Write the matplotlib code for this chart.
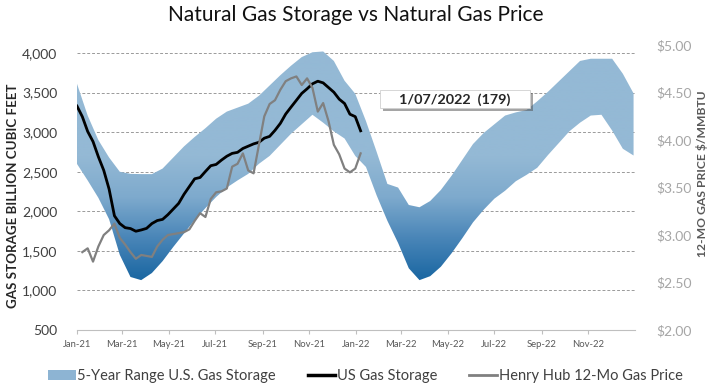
import pandas as pd
import matplotlib
matplotlib.use('Agg')
import matplotlib.pyplot as plt
import matplotlib.dates as mdates
import matplotlib.patheffects as pe
from matplotlib.colors import LinearSegmentedColormap, Normalize
from matplotlib.patches import Patch, Rectangle
from matplotlib.lines import Line2D
import numpy as np

plt.rcParams['font.family'] = ['Lato', 'DejaVu Sans']

# weekly US storage (Bcf), week ending Fridays from 2021-01-01
storage = [3330, 3196, 3009, 2881, 2689, 2518, 2281, 1943, 1845, 1793, 1782, 1748, 1764,
           1784, 1845, 1883, 1898, 1958, 2029, 2100, 2215, 2313, 2411, 2427, 2503, 2576,
           2592, 2647, 2696, 2732, 2745, 2794, 2823, 2852, 2872, 2924, 2947, 3023, 3111,
           3229, 3317, 3403, 3490, 3548, 3611, 3644, 3623, 3564, 3505, 3417, 3362, 3227,
           3196, 3017]
storage_dates = pd.date_range('2021-01-01', periods=len(storage), freq='7D')

# Henry Hub 12-month strip ($/MMBtu), weekly from 2021-01-08
price = [2.82, 2.86, 2.72, 2.88, 3.00, 3.05, 3.12, 2.97, 2.90, 2.82,
         2.75, 2.79, 2.78, 2.77, 2.88, 2.95, 3.00, 3.01, 3.02, 3.03,
         3.06, 3.15, 3.23, 3.19, 3.38, 3.45, 3.46, 3.49, 3.72, 3.75,
         3.86, 3.68, 3.65, 3.95, 4.25, 4.38, 4.42, 4.53, 4.62, 4.65,
         4.67, 4.58, 4.65, 4.55, 4.30, 4.39, 4.20, 3.95, 3.85, 3.70,
         3.66, 3.70, 3.86]
price_dates = pd.date_range('2021-01-08', periods=len(price), freq='7D')

# 5-year range, every two weeks over 2021-2022
range_high = [3612, 3210, 2900, 2680, 2500, 2473, 2470, 2470, 2540, 2680,
              2820, 2940, 3050, 3170, 3260, 3310, 3360, 3460, 3590, 3720,
              3840, 3949, 4010, 4020, 3900, 3650, 3485, 3140, 2750, 2346,
              2300, 2080, 2051, 2130, 2270, 2450, 2650, 2850, 2990, 3100,
              3210, 3250, 3280, 3390, 3510, 3640, 3770, 3900, 3928, 3928,
              3928, 3738, 3490]
range_low = [2599, 2390, 2170, 1900, 1450, 1170, 1130, 1220, 1370, 1550,
             1720, 1890, 2040, 2180, 2300, 2390, 2473, 2600, 2700, 2840,
             2980, 3100, 3220, 3120, 3010, 2920, 2700, 2560, 2200, 1880,
             1600, 1280, 1130, 1180, 1300, 1470, 1660, 1860, 2020, 2160,
             2260, 2380, 2460, 2550, 2710, 2860, 3010, 3120, 3210, 3220,
             3020, 2790, 2705]
range_dates = pd.date_range('2021-01-01', periods=len(range_high), freq='14D')

annot_text = '1/07/2022  (179)'

fig = plt.figure(figsize=(7.16, 3.89), dpi=100)
ax = fig.add_axes([0.1075, 0.1517, 0.7795, 0.7323])
ax2 = ax.twinx()

x0 = mdates.date2num(pd.Timestamp('2021-01-01'))
x1 = mdates.date2num(pd.Timestamp('2023-01-01'))

# band with vertical gradient, darker at low storage
band = ax.fill_between(range_dates, range_low, range_high, color='none', lw=0)
cmap = LinearSegmentedColormap.from_list('band', ['#1c68a3', '#4a86b8', '#7eaacd', '#94b9d5'])
grad = np.linspace(500, 4100, 300).reshape(-1, 1)
img = ax.imshow(grad, extent=[x0, x1, 500, 4100], origin='lower', aspect='auto',
                cmap=cmap, norm=Normalize(1150, 2700), zorder=1)
path = band.get_paths()[0]
img.set_clip_path(path, transform=ax.transData)

ax.plot(storage_dates, storage, color='black', lw=2.0, zorder=3)
ax2.plot(price_dates, price, color='#808080', lw=1.6, zorder=3)

ax.set_xlim(x0, x1)
ax.set_ylim(500, 4100)
ax2.set_ylim(2, 5)

ax.set_yticks(range(500, 4001, 500))
ax.set_yticklabels([f'{v:,}' for v in range(500, 4001, 500)])
ax2.set_yticks(np.arange(2, 5.01, 0.5))
ax2.set_yticklabels([f'${v:.2f}' for v in np.arange(2, 5.01, 0.5)])

ticks = pd.date_range('2021-01-01', '2022-11-01', freq='2MS')
ax.set_xticks(mdates.date2num(ticks))
ax.set_xticklabels([t.strftime('%b-%y') for t in ticks])

for a in (ax, ax2):
    for s in a.spines.values():
        s.set_visible(False)
ax.spines['bottom'].set_visible(True)
ax.spines['bottom'].set_color('#bfbfbf')

ax.grid(axis='y', color='#9a9a9a', ls=(0, (3, 2)), lw=0.7)
ax.set_axisbelow(True)
ax.tick_params(axis='y', length=0, pad=14, labelsize=10, labelcolor='#404040')
ax.tick_params(axis='x', length=3, color='#bfbfbf', labelsize=6.8, labelcolor='#595959', pad=4)
ax2.tick_params(axis='y', length=0, pad=15, labelsize=10, labelcolor='#a6a6a6')

ax.set_ylabel('GAS STORAGE BILLION CUBIC FEET', fontsize=9.6, fontweight='bold', color='#262626')
ax.yaxis.set_label_coords(-0.104, 0.47)
ax2.set_ylabel('12-MO GAS PRICE $/MMBTU', fontsize=8.7, fontweight='bold', color='#595959')
ax2.yaxis.set_label_coords(1.11, 0.55)

fig.text(0.497, 0.962, 'Natural Gas Storage vs Natural Gas Price', ha='center', va='center',
         fontsize=15, color='#111111')

# annotation box with a soft shadow
box = Rectangle((0.543, 0.779), 0.269, 0.063, transform=ax.transAxes, fc='white',
                ec='#d0d0d0', lw=0.6, zorder=5)
box.set_path_effects([pe.SimplePatchShadow(offset=(2, -2), alpha=0.5), pe.Normal()])
ax.add_patch(box)
ax.text(0.677, 0.81, annot_text, transform=ax.transAxes, ha='center', va='center',
        fontsize=10.4, fontweight='bold', color='#262626', zorder=6)

handles = [Patch(facecolor='#8db4d3', edgecolor='none'),
           Line2D([], [], color='black', lw=2.5),
           Line2D([], [], color='#808080', lw=2)]
labels = ['5-Year Range U.S. Gas Storage', 'US Gas Storage', 'Henry Hub 12-Mo Gas Price']
fig.legend(handles, labels, loc='center', bbox_to_anchor=(0.51, 0.033), ncol=3, frameon=False,
           fontsize=10.5, labelcolor='#404040', handlelength=1.9, handletextpad=0.1,
           columnspacing=2.2, handleheight=0.6)

fig.savefig('out.png', dpi=100)
